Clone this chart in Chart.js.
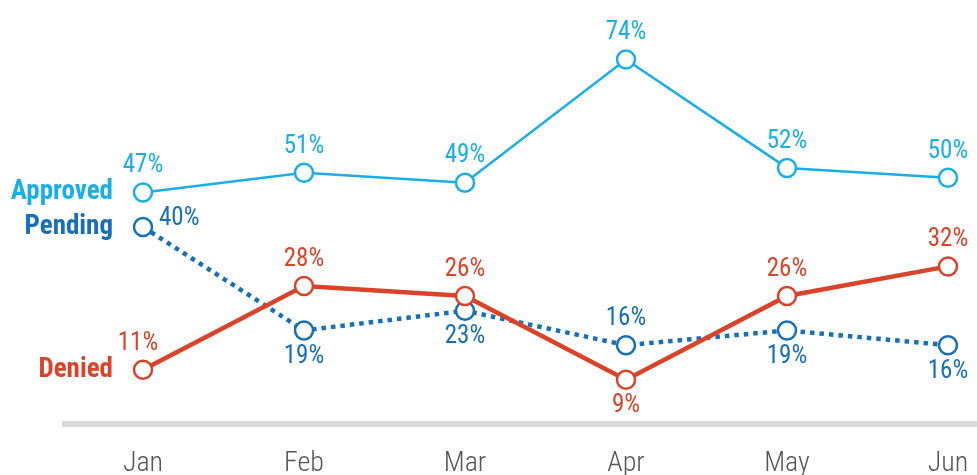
<!DOCTYPE html>
<html>
<head>
<meta charset="utf-8">
<script src="https://cdn.jsdelivr.net/npm/chart.js@4"></script>
<style>
  html, body { margin: 0; padding: 0; background: #fff; }
  #wrap { width: 977px; height: 475px; }
</style>
</head>
<body>
<div id="wrap"><canvas id="statusChart"></canvas></div>
<script>
// data
const months = ['Jan', 'Feb', 'Mar', 'Apr', 'May', 'Jun'];
const approved = [47, 51, 49, 74, 52, 50];
const pending = [40, 19, 23, 16, 19, 16];
const denied = [11, 28, 26, 9, 26, 32];

const FONT = '"Roboto Condensed", "Roboto", sans-serif';

// where each value label sits relative to its point
const labelSide = {
    Approved: ['top', 'top', 'top', 'top', 'top', 'top'],
    Pending: ['right', 'bottom', 'bottom', 'top', 'bottom', 'bottom'],
    Denied: ['top', 'top', 'top', 'bottom', 'top', 'top']
};

// value labels + series names on the left
const labelPlugin = {
    id: 'labels',
    afterDatasetsDraw(chart) {
        const ctx = chart.ctx;
        ctx.save();
        chart.data.datasets.forEach((ds, i) => {
            const meta = chart.getDatasetMeta(i);
            const sides = labelSide[ds.label];
            ctx.fillStyle = ds.borderColor;
            ctx.font = '25px ' + FONT;
            meta.data.forEach((pt, j) => {
                const side = sides[j];
                let x = pt.x, y = pt.y;
                if (side === 'top') { ctx.textAlign = 'center'; ctx.textBaseline = 'bottom'; y -= 14; }
                else if (side === 'bottom') { ctx.textAlign = 'center'; ctx.textBaseline = 'top'; y += 14; }
                else { ctx.textAlign = 'left'; ctx.textBaseline = 'middle'; x += 16; y -= 8; }
                if (ds.label === 'Denied' && j === 0) x -= 5;
                ctx.fillText(ds.data[j] + '%', x, y);
            });
            const first = meta.data[0];
            ctx.font = 'bold 27px ' + FONT;
            ctx.textAlign = 'right';
            ctx.textBaseline = 'middle';
            ctx.fillText(ds.label, first.x - 30, first.y);
        });
        ctx.restore();
    }
};

// gray baseline at 0, running wider than the plot area
const baselinePlugin = {
    id: 'baseline',
    beforeDatasetsDraw(chart) {
        const ctx = chart.ctx;
        const y = chart.scales.y.getPixelForValue(0);
        ctx.save();
        ctx.fillStyle = '#d9d9d9';
        ctx.fillRect(62, y - 3, chart.width - 62, 6);
        ctx.restore();
    }
};

const ctx = document.getElementById('statusChart');
new Chart(ctx, {
    type: 'line',
    data: {
        labels: months,
        datasets: [{
            label: 'Approved',
            data: approved,
            order: 2,
            borderColor: '#19aee8',
            borderWidth: 2.5,
            pointRadius: 9,
            pointBorderWidth: 2.5,
            pointBackgroundColor: '#fff',
            pointBorderColor: '#19aee8',
            tension: 0
        }, {
            label: 'Pending',
            data: pending,
            order: 1,
            borderColor: '#166fb7',
            borderWidth: 4.5,
            borderDash: [4.5, 5],
            pointRadius: 9,
            pointBorderWidth: 2.5,
            pointBackgroundColor: '#fff',
            pointBorderColor: '#166fb7',
            tension: 0
        }, {
            label: 'Denied',
            data: denied,
            order: 0,
            borderColor: '#d9432a',
            borderWidth: 4.5,
            pointRadius: 9,
            pointBorderWidth: 2.5,
            pointBackgroundColor: '#fff',
            pointBorderColor: '#d9432a',
            tension: 0
        }]
    },
    options: {
        responsive: true,
        maintainAspectRatio: false,
        animation: false,
        layout: { padding: { left: 143, right: 29, top: 30, bottom: 0 } },
        plugins: {
            legend: { display: false },
            tooltip: { enabled: false }
        },
        scales: {
            x: {
                offset: false,
                grid: { display: false },
                border: { display: false },
                afterFit(scale) {
                    scale.height = 51;
                    scale.paddingLeft = 0;
                    scale.paddingRight = 0;
                },
                ticks: {
                    color: '#555',
                    padding: 15,
                    font: { family: FONT, size: 28, weight: 300 }
                }
            },
            y: {
                display: false,
                min: 0,
                max: 80
            }
        }
    },
    plugins: [baselinePlugin, labelPlugin]
});
</script>
</body>
</html>
